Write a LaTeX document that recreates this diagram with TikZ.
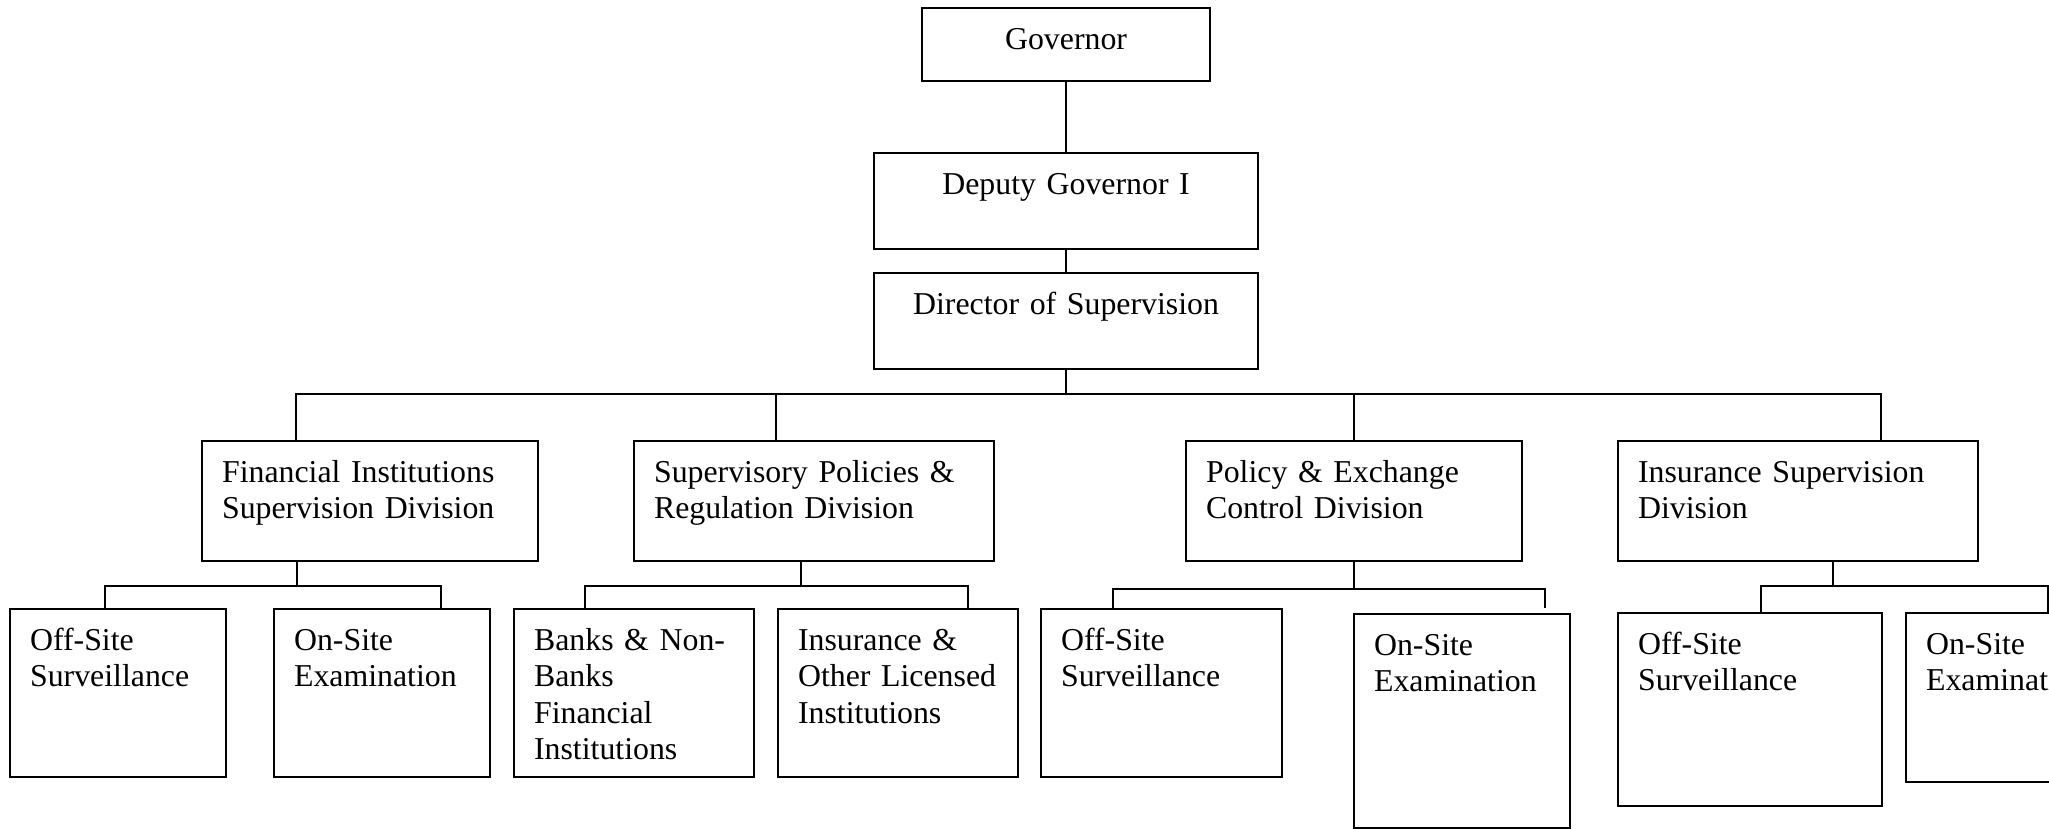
\documentclass[tikz,border=0pt]{standalone}
\usepackage{fontspec}
\setmainfont{Liberation Serif}[WordSpace=0.75]
\usepackage{tikz}
\usetikzlibrary{calc}

\begin{document}
\begin{tikzpicture}[x=0.377pt,y=-0.377pt,
  unitbox/.style n args={2}{draw, thick, anchor=north west, align=left,
    inner xsep={20*0.377pt}, inner ysep=0pt,
    text width={(#1-40)*0.377pt}, text height={41*0.377pt}, text depth={(#2-41)*0.377pt},
    font=\fontsize{12pt}{13.8pt}\selectfont}]
\useasboundingbox (0,0) rectangle (2049,828);
\node[unitbox={288}{73},align=center] (gov) at (921,7) {Governor};
\node[unitbox={384}{96},align=center] (dep) at (873,152) {Deputy Governor I};
\node[unitbox={384}{96},align=center] (dir) at (873,272) {Director of Supervision};
\node[unitbox={336}{120}] (fis) at (201,440) {Financial Institutions\\Supervision Division};
\node[unitbox={360}{120}] (spr) at (633,440) {Supervisory Policies \&\\Regulation Division};
\node[unitbox={336}{120}] (pec) at (1185,440) {Policy \& Exchange\\Control Division};
\node[unitbox={360}{120}] (isd) at (1617,440) {Insurance Supervision\\Division};
\node[unitbox={216}{168}] (fisoff) at (9,608) {Off-Site\\Surveillance};
\node[unitbox={216}{168}] (fison) at (273,608) {On-Site\\Examination};
\node[unitbox={240}{168}] (sprbank) at (513,608) {Banks \& Non-\\Banks\\Financial\\Institutions};
\node[unitbox={240}{168}] (sprins) at (777,608) {Insurance \&\\Other Licensed\\Institutions};
\node[unitbox={241}{168}] (pecoff) at (1040,608) {Off-Site\\Surveillance};
\node[unitbox={216}{214}] (pecon) at (1353,613) {On-Site\\Examination};
\node[unitbox={264}{193}] (isdoff) at (1617,612) {Off-Site\\Surveillance};
\node[unitbox={216}{169}] (isdon) at (1905,612) {On-Site\\Examination};
\draw[thick] (gov.south) -- (dep.north);
\draw[thick] (dep.south) -- (dir.north);
\coordinate (a1) at ($(fis.north west)+(95,0)$);
\coordinate (a2) at ($(spr.north west)+(143,0)$);
\coordinate (a4) at ($(isd.north west)+(264,0)$);
\draw[thick] (dir.south) -- ++(0,24) coordinate (bus);
\draw[thick] (a1) -- (a1 |- bus) -- (a4 |- bus) -- (a4);
\draw[thick] (a2) -- (a2 |- bus);
\draw[thick] (pec.north) -- (pec.north |- bus);
\coordinate (f1) at ($(fisoff.north west)+(96,0)$);
\coordinate (f2) at ($(fison.north west)+(168,0)$);
\draw[thick] ($(fis.south west)+(96,0)$) -- ++(0,24) coordinate (fbus);
\draw[thick] (f1) |- (fbus) -| (f2);
\coordinate (s1) at ($(sprbank.north west)+(72,0)$);
\coordinate (s2) at ($(sprins.north west)+(191,0)$);
\draw[thick] ($(spr.south west)+(168,0)$) -- ++(0,24) coordinate (sbus);
\draw[thick] (s1) |- (sbus) -| (s2);
\coordinate (p1) at ($(pecoff.north west)+(73,0)$);
\coordinate (p2) at ($(pecon.north west)+(192,-5)$);
\draw[thick] (pec.south) -- ++(0,27) coordinate (pbus);
\draw[thick] (p1) |- (pbus) -| (p2);
\coordinate (i1) at ($(isdoff.north west)+(144,0)$);
\coordinate (i2) at ($(isdon.north west)+(143,0)$);
\draw[thick] ($(isd.south west)+(216,0)$) -- ++(0,24) coordinate (ibus);
\draw[thick] (i1) |- (ibus) -| (i2);
\end{tikzpicture}
\end{document}
